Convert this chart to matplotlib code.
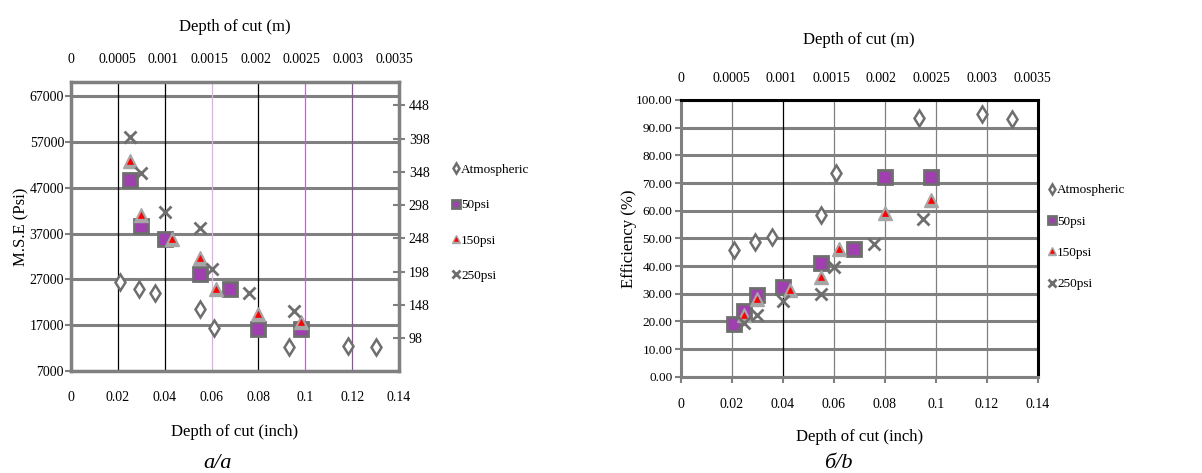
import matplotlib
matplotlib.use("Agg")
import matplotlib.pyplot as plt

plt.rcParams['font.family'] = ['Liberation Serif', 'DejaVu Serif']

# ---- panel a: M.S.E vs depth of cut ----
mse_atm_x = [0.021, 0.029, 0.036, 0.055, 0.061, 0.093, 0.118, 0.130]
mse_atm_y = [26500, 25000, 24100, 20500, 16500, 12200, 12400, 12200]
mse_50_x = [0.025, 0.030, 0.040, 0.055, 0.068, 0.080, 0.098]
mse_50_y = [48700, 38600, 35800, 28100, 24900, 16100, 16100]
mse_150_x = [0.025, 0.030, 0.043, 0.055, 0.062, 0.080, 0.098]
mse_150_y = [52900, 41000, 35800, 31600, 24900, 19500, 17700]
mse_250_x = [0.025, 0.030, 0.040, 0.055, 0.060, 0.076, 0.095]
mse_250_y = [58200, 50200, 41800, 38200, 29200, 24100, 20200]

# ---- panel b: efficiency vs depth of cut ----
eff_atm_x = [0.021, 0.029, 0.036, 0.055, 0.061, 0.0935, 0.118, 0.130]
eff_atm_y = [45.8, 48.6, 50.6, 58.4, 73.5, 93.6, 94.8, 93.0]
eff_50_x = [0.021, 0.025, 0.030, 0.040, 0.055, 0.068, 0.080, 0.098]
eff_50_y = [19.0, 23.7, 29.5, 32.3, 41.0, 46.0, 72.0, 72.0]
eff_150_x = [0.025, 0.030, 0.043, 0.055, 0.062, 0.080, 0.098]
eff_150_y = [22.3, 28.0, 31.5, 36.0, 46.0, 59.0, 63.9]
eff_250_x = [0.025, 0.030, 0.040, 0.055, 0.060, 0.076, 0.095]
eff_250_y = [19.3, 22.3, 27.5, 29.9, 39.8, 48.0, 57.0]

labels = ['Atmospheric', '50psi', '150psi', '250psi']
x_ticks = [0, 0.02, 0.04, 0.06, 0.08, 0.1, 0.12, 0.14]
x_tick_labels = ['0', '0.02', '0.04', '0.06', '0.08', '0.1', '0.12', '0.14']
m_ticks = [0, 0.0005, 0.001, 0.0015, 0.002, 0.0025, 0.003, 0.0035]
m_tick_labels = ['0', '0.0005', '0.001', '0.0015', '0.002', '0.0025', '0.003', '0.0035']
mse_ticks = [7000, 17000, 27000, 37000, 47000, 57000, 67000]
mpa_ticks = [48, 98, 148, 198, 248, 298, 348, 398, 448]
eff_ticks = [0, 10, 20, 30, 40, 50, 60, 70, 80, 90, 100]

GREY = '#6e6e6e'
LGREY = '#a6a6a6'
PURPLE = '#a040b0'


def draw_series(ax, xs, ys):
    h = []
    h.append(ax.plot(xs[0], ys[0], ls='none', marker='d', ms=8, mfc='white',
                     mec=GREY, mew=1.8)[0])
    h.append(ax.plot(xs[1], ys[1], ls='none', marker='s', ms=10, mfc=PURPLE,
                     mec=GREY, mew=2)[0])
    t1 = ax.plot(xs[2], ys[2], ls='none', marker='^', ms=10, mfc=LGREY,
                 mec=LGREY, mew=1)[0]
    t2 = ax.plot(xs[2], ys[2], ls='none', marker='^', ms=4.5, mfc='red',
                 mec='red', mew=0.5)[0]
    h.append((t1, t2))
    h.append(ax.plot(xs[3], ys[3], ls='none', marker='x', ms=8.5, mec=GREY,
                     mew=2)[0])
    return h


fig = plt.figure(figsize=(12.02, 4.73), dpi=100)

# ================= panel a =================
ax1 = fig.add_axes([0.0591, 0.2156, 0.2729, 0.611])
ax1.set_xlim(0, 0.14)
ax1.set_ylim(7000, 70100)
for y in mse_ticks:
    ax1.axhline(y, color='#808080', lw=2.2, zorder=1)
vcols = ['black', 'black', '#dcb0e4', 'black', '#b070c0', '#9050a8']
for x, c in zip(x_ticks[1:7], vcols):
    ax1.axvline(x, color=c, lw=0.9, zorder=1)
h1 = draw_series(ax1, [mse_atm_x, mse_50_x, mse_150_x, mse_250_x],
                 [mse_atm_y, mse_50_y, mse_150_y, mse_250_y])
for s in ax1.spines.values():
    s.set_color('#808080')
    s.set_linewidth(2.5)
ax1.set_yticks(mse_ticks)
ax1.set_yticklabels([str(v) for v in mse_ticks], fontsize=10)
ax1.set_xticks(x_ticks)
ax1.set_xticklabels(x_tick_labels, fontsize=10)
ax1.tick_params(axis='x', length=0, pad=14.5)
ax1.tick_params(axis='y', length=4, color='#808080', width=1.5, pad=1)
ax1.set_xlabel('Depth of cut (inch)', fontsize=12, labelpad=14)
ax1.set_ylabel('M.S.E (Psi)', fontsize=12, labelpad=0)

sec_y = ax1.secondary_yaxis('right', functions=(lambda v: v * 0.006895,
                                               lambda v: v / 0.006895))
sec_y.set_yticks(mpa_ticks)
sec_y.set_yticklabels([str(v) for v in mpa_ticks], fontsize=10)
sec_y.tick_params(length=8, direction='inout', color='#808080', width=1.5, pad=3)
sec_y.spines['right'].set_visible(False)

sec_x1 = ax1.secondary_xaxis('top', functions=(lambda v: v * 0.0254,
                                              lambda v: v / 0.0254))
sec_x1.set_xticks(m_ticks)
sec_x1.set_xticklabels(m_tick_labels, fontsize=10)
sec_x1.tick_params(length=0, pad=11.5)
sec_x1.spines['top'].set_visible(False)
sec_x1.set_xlabel('Depth of cut (m)', fontsize=12, labelpad=16)

fig.legend(h1, labels, loc='upper left', bbox_to_anchor=(0.372, 0.665),
           frameon=False, fontsize=9.5, handlelength=0.5, handletextpad=0.15,
           labelspacing=1.75, markerscale=0.6, borderaxespad=0)
fig.text(0.181, 1 - 463 / 473, 'a/a', fontsize=16, style='italic',
         ha='center', va='center')

# ================= panel b =================
ax2 = fig.add_axes([0.5663, 0.2036, 0.297, 0.585])
ax2.set_xlim(0, 0.14)
ax2.set_ylim(0, 100)
for y in eff_ticks:
    ax2.axhline(y, color='#808080', lw=2.2, zorder=1)
for x in x_ticks[1:7]:
    ax2.axvline(x, color='black' if x == 0.04 else '#808080', lw=0.9, zorder=1)
h2 = draw_series(ax2, [eff_atm_x, eff_50_x, eff_150_x, eff_250_x],
                 [eff_atm_y, eff_50_y, eff_150_y, eff_250_y])
for side in ['left', 'bottom']:
    ax2.spines[side].set_color('#808080')
    ax2.spines[side].set_linewidth(2.2)
for side in ['top', 'right']:
    ax2.spines[side].set_color('black')
    ax2.spines[side].set_linewidth(2.2)
ax2.set_yticks(eff_ticks)
ax2.set_yticklabels(['%.2f' % v for v in eff_ticks], fontsize=9.5)
ax2.set_xticks(x_ticks)
ax2.set_xticklabels(x_tick_labels, fontsize=10)
ax2.tick_params(axis='x', length=4, direction='out', color='#808080', width=1.5, pad=11)
ax2.tick_params(axis='y', length=4, color='#808080', width=1.5, pad=2)
ax2.set_xlabel('Depth of cut (inch)', fontsize=12, labelpad=13)
ax2.set_ylabel('Efficiency (%)', fontsize=12, labelpad=-1)

sec_x2 = ax2.secondary_xaxis('top', functions=(lambda v: v * 0.0254,
                                              lambda v: v / 0.0254))
sec_x2.set_xticks(m_ticks)
sec_x2.set_xticklabels(m_tick_labels, fontsize=10)
sec_x2.tick_params(length=0, pad=11)
sec_x2.spines['top'].set_visible(False)
sec_x2.set_xlabel('Depth of cut (m)', fontsize=12, labelpad=20)

fig.legend(h2, labels, loc='upper left', bbox_to_anchor=(0.868, 0.622),
           frameon=False, fontsize=9.5, handlelength=0.5, handletextpad=0.15,
           labelspacing=1.45, markerscale=0.6, borderaxespad=0)
fig.text(0.697, 1 - 463 / 473, 'б/b', fontsize=16, style='italic',
         ha='center', va='center')

fig.savefig('out.png', dpi=100)
